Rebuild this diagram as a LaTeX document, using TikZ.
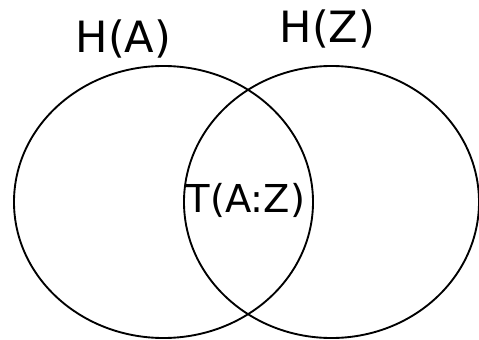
\documentclass[tikz,border=0pt]{standalone}
\usepackage{fontspec}
\setmainfont{DejaVu Sans}
\usetikzlibrary{shapes.geometric}

\begin{document}
\begin{tikzpicture}[x=0.03cm,y=-0.03cm,line join=round,
  setshape/.style={draw,ellipse,line width=1.6pt,inner sep=0pt,minimum height=8.16cm},
  setlabel/.style={anchor=base,inner sep=0pt,font=\fontsize{36.8}{40}\selectfont},
  infolabel/.style={anchor=base,inner sep=0pt,font=\fontsize{32.8}{36}\selectfont}]
\useasboundingbox (0,0) rectangle (479,340);
% the two entropy sets
\node[setshape,minimum width=8.97cm] (setA) at (163.5,202) {};
\node[setshape,minimum width=8.85cm] (setZ) at (331.5,202) {};
% labels
\node[setlabel] (labA) at (123.5,52.5) {H(A)};
\node[setlabel] (labZ) at (327.5,43) {H(Z)};
\node[infolabel] (labT) at (246,212) {T(A:Z)};
\end{tikzpicture}
\end{document}
